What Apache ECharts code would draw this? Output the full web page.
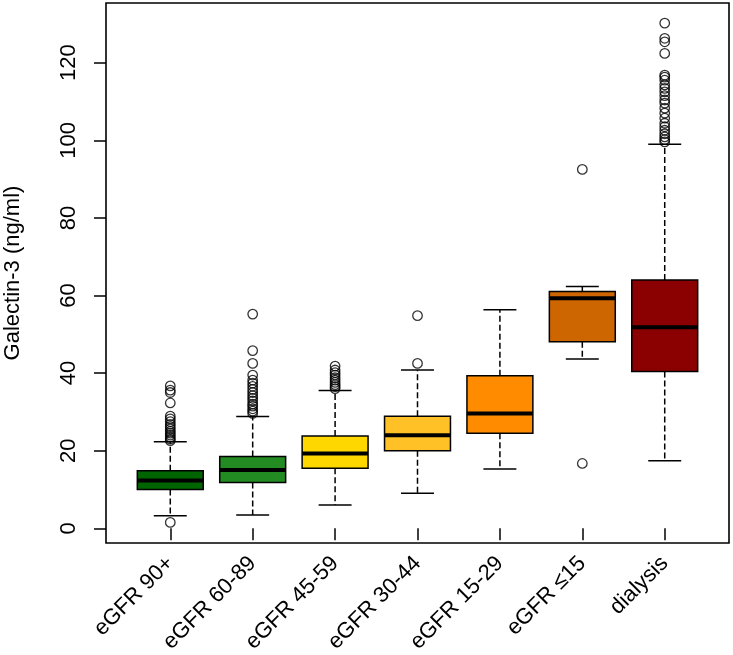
<!DOCTYPE html>
<html>
<head>
<meta charset="utf-8">
<script src="https://cdn.jsdelivr.net/npm/echarts@6/dist/echarts.min.js"></script>
<style>
  html, body { margin: 0; padding: 0; background: #fff; }
  #chart { width: 733px; height: 655px; }
</style>
</head>
<body>
<div id="chart"></div>
<script>
// ---- data ----
var categories = ['eGFR 90+', 'eGFR 60-89', 'eGFR 45-59', 'eGFR 30-44', 'eGFR 15-29', 'eGFR \u226415', 'dialysis'];
var boxColors = ['#006400', '#228B22', '#FFD700', '#FFC125', '#FF8C00', '#CD6600', '#8B0000'];
var whiskerLow  = [3.2, 3.4, 6.0, 9.0, 15.3, 43.6, 17.4];
var q1Values    = [10.0, 11.8, 15.5, 20.0, 24.5, 48.1, 40.4];
var medians     = [12.3, 15.0, 19.3, 24.0, 29.6, 59.3, 51.8];
var q3Values    = [14.8, 18.5, 23.8, 28.9, 39.3, 61.0, 64.0];
var whiskerHigh = [22.3, 28.8, 35.5, 40.8, 56.3, 62.3, 99.0];

var outliers90  = [1.5, 22.6, 23.0, 23.5, 24.0, 24.5, 25.0, 25.6, 26.2, 26.8, 27.5, 28.2, 28.9, 32.3, 35.0, 35.6, 36.7];
var outliers60  = [29.6, 30.2, 30.8, 31.5, 32.0, 32.8, 33.5, 34.2, 35.0, 35.8, 36.6, 37.4, 38.2, 39.5, 42.5, 45.8, 55.2];
var outliers45  = [36.0, 36.5, 37.0, 37.6, 38.2, 38.8, 39.5, 40.1, 40.8, 41.8];
var outliers30  = [42.5, 54.8];
var outliers15  = [];
var outliersLE15 = [16.7, 92.5];
var outliersDial = [99.6, 100.2, 100.9, 101.7, 102.6, 103.5, 104.4, 105.7, 107.0, 108.3, 109.6, 110.4, 111.5, 112.5, 113.4, 114.3, 115.5, 116.3, 116.8, 122.4, 125.4, 126.3, 130.2];
var yTicks = [0, 20, 40, 60, 80, 100, 120];

// ---- build series data ----
var allOutliers = [outliers90, outliers60, outliers45, outliers30, outliers15, outliersLE15, outliersDial];
var boxData = categories.map(function (c, i) {
  return [i + 1, whiskerLow[i], q1Values[i], medians[i], q3Values[i], whiskerHigh[i]];
});
var outlierData = [];
allOutliers.forEach(function (arr, i) {
  arr.forEach(function (v) { outlierData.push([i + 1, v]); });
});

var FONT = 'Liberation Sans, Arial, sans-serif';
var FS = 22;
var BOXHALF = 0.4, CAPHALF = 0.2;

function renderBox(params, api) {
  var x = api.value(0);
  var lo = api.value(1), q1 = api.value(2), md = api.value(3), q3 = api.value(4), hi = api.value(5);
  var pL = api.coord([x - BOXHALF, q3]);
  var pR = api.coord([x + BOXHALF, q1]);
  var c = api.coord([x, md]);
  var pLo = api.coord([x, lo]), pQ1 = api.coord([x, q1]), pQ3 = api.coord([x, q3]), pHi = api.coord([x, hi]);
  var capL = api.coord([x - CAPHALF, 0])[0], capR = api.coord([x + CAPHALF, 0])[0];
  var cx = c[0];
  var dash = { stroke: '#000', lineWidth: 1.5, lineDash: [6, 3] };
  var solid = { stroke: '#000', lineWidth: 1.5 };
  return {
    type: 'group',
    children: [
      { type: 'line', shape: { x1: cx, y1: pQ3[1], x2: cx, y2: pHi[1] }, style: dash },
      { type: 'line', shape: { x1: cx, y1: pQ1[1], x2: cx, y2: pLo[1] }, style: dash },
      { type: 'line', shape: { x1: capL, y1: pHi[1], x2: capR, y2: pHi[1] }, style: solid },
      { type: 'line', shape: { x1: capL, y1: pLo[1], x2: capR, y2: pLo[1] }, style: solid },
      { type: 'rect', shape: { x: pL[0], y: pL[1], width: pR[0] - pL[0], height: pR[1] - pL[1] },
        style: { fill: boxColors[params.dataIndex], stroke: '#000', lineWidth: 1.5 } },
      { type: 'line', shape: { x1: pL[0], y1: c[1], x2: pR[0], y2: c[1] }, style: { stroke: '#000', lineWidth: 4 } }
    ]
  };
}

var chart = echarts.init(document.getElementById('chart'), null, { renderer: 'canvas' });
chart.setOption({
  animation: false,
  backgroundColor: '#fff',
  grid: { left: 106, right: 4, top: 3, bottom: 112, outerBoundsMode: 'none', containLabel: false,
          show: true, borderColor: '#000', borderWidth: 1.6, backgroundColor: 'transparent' },
  xAxis: {
    type: 'value', min: 0.22, max: 7.78,
    axisLine: { show: false },
    splitLine: { show: false },
    axisTick: { show: true, customValues: [1, 2, 3, 4, 5, 6, 7], length: 12, lineStyle: { color: '#000', width: 1.5 } },
    axisLabel: {
      customValues: [1, 2, 3, 4, 5, 6, 7], rotate: 45, margin: 17,
      fontFamily: FONT, fontSize: FS, color: '#000',
      formatter: function (v) { return categories[Math.round(v) - 1] || ''; }
    }
  },
  yAxis: {
    type: 'value', min: -3.8, max: 135.4,
    name: 'Galectin-3 (ng/ml)', nameLocation: 'middle', nameRotate: 90, nameGap: 82,
    nameTextStyle: { fontFamily: FONT, fontSize: FS, color: '#000' },
    axisLine: { show: false },
    splitLine: { show: false },
    axisTick: { show: true, customValues: yTicks, length: 12, lineStyle: { color: '#000', width: 1.5 } },
    axisLabel: { customValues: yTicks, rotate: 90, margin: 26, fontFamily: FONT, fontSize: FS, color: '#000' }
  },
  series: [
    {
      type: 'custom', renderItem: renderBox, data: boxData,
      encode: { x: 0, y: [1, 2, 3, 4, 5] }, clip: false, z: 2
    },
    {
      type: 'scatter', data: outlierData, symbol: 'circle', symbolSize: 9.5,
      itemStyle: { color: 'rgba(0,0,0,0)', borderColor: '#000', borderWidth: 1.3 },
      z: 3, silent: true
    }
  ]
});
</script>
</body>
</html>
